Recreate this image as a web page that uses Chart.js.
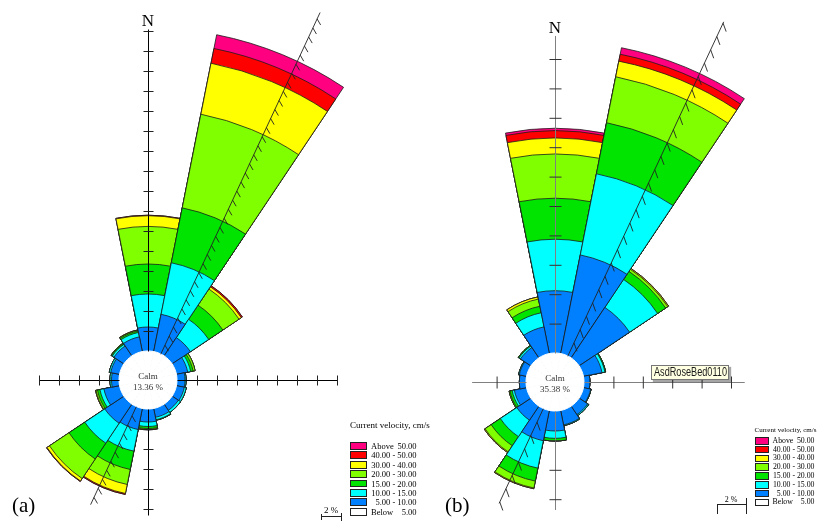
<!DOCTYPE html>
<html>
<head>
<meta charset="utf-8">
<script src="https://cdn.jsdelivr.net/npm/chart.js@4.4.1/dist/chart.umd.min.js"></script>
<style>
  html, body { margin: 0; padding: 0; background: #fff; }
  body { position: relative; width: 827px; height: 523px; overflow: hidden; }
  canvas.rose { position: absolute; }
  .lbl { position: absolute; white-space: nowrap; font-family: "Liberation Serif", "Times New Roman", serif; color: #000; line-height: 1; }
  .ctr { transform: translate(-50%, -50%); }
  .box { position: absolute; box-sizing: border-box; border: 1px solid #222; }
  .rule { position: absolute; background: #222; }
  .tip { position: absolute; box-sizing: border-box; background: #ffffe1; border: 1px solid #767676;
         box-shadow: 2px 2px 1px rgba(0,0,0,0.35); font-family: "Liberation Sans", Arial, sans-serif;
         color: #1a1a1a; white-space: nowrap; overflow: hidden; }
  .tip span { display: inline-block; transform-origin: 0 50%; }
</style>
</head>
<body>
<canvas id="roseA" class="rose" width="800" height="800"></canvas>
<canvas id="roseB" class="rose" width="800" height="800"></canvas>
<script>
// ---- categories --------------------------------------------------------
const directions = ['N','NNE','NE','ENE','E','ESE','SE','SSE','S','SSW','SW','WSW','W','WNW','NW','NNW'];
const classNames  = ['5.00 - 10.00','10.00 - 15.00','15.00 - 20.00','20.00 - 30.00','30.00 - 40.00','40.00 - 50.00','Above 50.00'];
const classColors = ['#0080ff','#00ffff','#00e400','#80ff00','#ffff00','#ff0000','#ff0080'];
const calmColor = '#ffffff';
const legendTitle = 'Current velocity, cm/s';
const legendRows = [['Above','50.00'],['','40.00 - 50.00'],['','30.00 - 40.00'],['','20.00 - 30.00'],
                    ['','15.00 - 20.00'],['','10.00 - 15.00'],['','5.00 - 10.00'],['Below','5.00']];
const legendColors = ['#ff0080','#ff0000','#ffff00','#80ff00','#00e400','#00ffff','#0080ff','#ffffff'];

// ---- rose (a): frequency (%) per direction and velocity class ----------
const calmA = 13.36;
const a_5_10  = [2.40,3.80,2.20,1.15,0.80,0.80,0.75,0.90,1.30,2.15,2.30,1.60,0.75,0.90,1.20,1.50];
const a_10_15 = [3.30,5.25,2.20,0.30,0.10,0.20,0.25,0.25,0.45,2.20,2.40,0.40,0.15,0.15,0.20,0.45];
const a_15_20 = [3.00,5.60,1.70,0.25,0.00,0.00,0.00,0.05,0.20,1.87,1.90,0.25,0.00,0.00,0.10,0.15];
const a_20_30 = [3.76,9.55,1.95,0.20,0.00,0.00,0.00,0.00,0.08,1.53,2.35,0.15,0.00,0.00,0.05,0.08];
const a_30_40 = [1.07,5.20,0.27,0.00,0.00,0.00,0.00,0.00,0.05,0.92,0.30,0.05,0.00,0.00,0.00,0.03];
const a_40_50 = [0.05,1.50,0.13,0.00,0.00,0.00,0.00,0.00,0.00,0.10,0.05,0.00,0.00,0.00,0.00,0.00];
const a_50up  = [0.00,1.40,0.00,0.00,0.00,0.00,0.00,0.00,0.00,0.00,0.00,0.00,0.00,0.00,0.00,0.00];
const meanDirA = [25, 37.7, 10.8];          // bearing, forward length %, backward length %
const axisExtA = [32.2, 16, 10.6, 8];       // axis reach in % : N, E, S, W

// ---- rose (b) ----------------------------------------------------------
const calmB = 35.38;
const b_5_10  = [4.24,6.84,4.13,1.29,0.40,0.50,0.70,1.00,1.36,2.10,1.15,0.85,0.45,0.50,0.85,1.85];
const b_10_15 = [3.50,5.63,2.29,0.20,0.00,0.03,0.08,0.05,0.50,1.90,1.35,0.15,0.00,0.05,0.12,0.98];
const b_15_20 = [2.79,3.54,0.66,0.05,0.00,0.00,0.00,0.00,0.18,0.90,0.75,0.15,0.00,0.00,0.06,0.45];
const b_20_30 = [3.01,3.19,0.17,0.00,0.00,0.00,0.00,0.00,0.00,0.48,0.50,0.06,0.00,0.00,0.00,0.50];
const b_30_40 = [1.09,1.08,0.07,0.00,0.00,0.00,0.00,0.00,0.00,0.05,0.06,0.00,0.00,0.00,0.00,0.15];
const b_40_50 = [0.50,0.48,0.00,0.00,0.00,0.00,0.00,0.00,0.00,0.00,0.00,0.00,0.00,0.00,0.00,0.00];
const b_50up  = [0.16,0.45,0.00,0.00,0.00,0.00,0.00,0.00,0.00,0.00,0.00,0.00,0.00,0.00,0.00,0.00];
const meanDirB = [25, 25.1, 7.1];
const axisExtB = [21.6, 10.9, 6.7, 3.7];

// ---- helpers -----------------------------------------------------------
function addDiv(cls, css, text) {
  const d = document.createElement('div');
  d.className = cls;
  Object.assign(d.style, css);
  if (text !== undefined) d.textContent = text;
  document.body.appendChild(d);
  return d;
}

// Draws the compass axes with 2 % ticks and the feathered mean-direction line.
function overlayPlugin(look) {
  return {
    id: 'roseOverlay',
    afterDatasetsDraw(chart) {
      const s = chart.scales.r, ctx = chart.ctx;
      const cx = s.xCenter, cy = s.yCenter;
      const dist = v => s.getDistanceFromCenterForValue(v);
      const pt = (b, r) => { const a = b * Math.PI / 180; return [cx + r * Math.sin(a), cy - r * Math.cos(a)]; };
      const seg = (p, q) => { ctx.beginPath(); ctx.moveTo(p[0], p[1]); ctx.lineTo(q[0], q[1]); ctx.stroke(); };
      ctx.save();
      ctx.translate(0.5, 0.5);
      [0, 90, 180, 270].forEach((b, i) => {
        ctx.strokeStyle = look.axisColor; ctx.lineWidth = look.axisWidth;
        seg(pt(b, dist(0)), pt(b, dist(look.ext[i])));
        ctx.strokeStyle = look.tickColor; ctx.lineWidth = 1;
        for (let v = 2; v <= look.ext[i] + 0.05; v += 2) {
          const [x, y] = pt(b, dist(v));
          const h = look.tickHalf;
          if (b % 180 === 0) seg([x - h, y], [x + h, y]); else seg([x, y - h], [x, y + h]);
        }
      });
      // mean direction line with barbs every 1 %
      const [bear, fwd, back] = look.mean;
      ctx.strokeStyle = look.meanColor; ctx.lineWidth = 0.9;
      [[bear, fwd], [bear + 180, back]].forEach(([b, len]) => {
        seg(pt(b, dist(0)), pt(b, dist(len)));
        for (let v = 1; v <= len; v++) {
          const p = pt(b, dist(v));
          const a = look.barbBearing * Math.PI / 180;
          seg(p, [p[0] + look.barbLen * Math.sin(a), p[1] - look.barbLen * Math.cos(a)]);
        }
      });
      ctx.restore();
    }
  };
}

function makeRose(id, geo, classes, look) {
  const R = 400;
  const cv = document.getElementById(id);
  cv.style.left = (geo.cx - R) + 'px';
  cv.style.top = (geo.cy - R) + 'px';
  const min = -geo.calmPx / geo.ppu;
  const max = min + R / geo.ppu;
  let run = directions.map(() => 0);
  const cumulative = classes.map(vals => (run = run.map((r, i) => r + vals[i])));
  const datasets = [{ label: 'Below 5.00', data: directions.map(() => 0),
                      backgroundColor: calmColor, borderColor: calmColor, borderWidth: 1 }];
  cumulative.forEach((d, i) => datasets.push({
    label: classNames[i], data: d, backgroundColor: classColors[i],
    borderColor: '#1c1c1c', borderWidth: 0.8
  }));
  const chart = new Chart(cv, {
    type: 'polarArea',
    data: { labels: directions, datasets },
    options: {
      responsive: false, animation: false, events: [],
      layout: { padding: 0 },
      plugins: { legend: { display: false }, tooltip: { enabled: false } },
      scales: { r: { min, max, startAngle: -360 / directions.length / 2,
                     ticks: { display: false }, grid: { display: false },
                     angleLines: { display: false }, pointLabels: { display: false } } }
    },
    plugins: [overlayPlugin(look)]
  });
  const s = chart.scales.r;
  return {
    chart,
    x: parseFloat(cv.style.left) + s.xCenter,
    y: parseFloat(cv.style.top) + s.yCenter,
    dist: v => s.getDistanceFromCenterForValue(v)
  };
}

function buildLegend(cfg) {
  addDiv('lbl', { left: cfg.left + 'px', top: cfg.titleTop + 'px', fontSize: cfg.titleSize + 'px' }, legendTitle);
  legendRows.forEach((row, i) => {
    const top = cfg.top + i * cfg.step;
    addDiv('box', { left: cfg.left + 'px', top: top + 'px', width: cfg.boxW + 'px', height: cfg.boxH + 'px',
                    background: legendColors[i] });
    const cell = addDiv('lbl', { left: cfg.textLeft + 'px', width: (cfg.textRight - cfg.textLeft) + 'px',
                                 top: (top + cfg.boxH / 2) + 'px', transform: 'translateY(-50%)',
                                 fontSize: cfg.size + 'px', display: 'flex', justifyContent: row[0] ? 'space-between' : 'flex-end' });
    if (row[0]) { const l = document.createElement('span'); l.textContent = row[0]; cell.appendChild(l); }
    const r = document.createElement('span'); r.textContent = row[1]; cell.appendChild(r);
  });
}

function scaleBar(rose, cfg) {
  const w = rose.dist(2) - rose.dist(0);
  addDiv('rule', { left: cfg.left + 'px', top: cfg.y + 'px', width: w + 'px', height: '1px' });
  addDiv('rule', { left: cfg.left + 'px', top: cfg.lt[0] + 'px', width: '1px', height: (cfg.lt[1] - cfg.lt[0]) + 'px' });
  addDiv('rule', { left: (cfg.left + w) + 'px', top: cfg.rt[0] + 'px', width: '1px', height: (cfg.rt[1] - cfg.rt[0]) + 'px' });
  addDiv('lbl ctr', { left: (cfg.left + w / 2) + 'px', top: cfg.textY + 'px', fontSize: cfg.size + 'px' }, '2 %');
}

function roseLabels(rose, calm, cfg) {
  addDiv('lbl ctr', { left: rose.x + 'px', top: (rose.y - rose.dist(cfg.axisTop) - cfg.nGap) + 'px', fontSize: '17px' }, 'N');
  addDiv('lbl ctr', { left: rose.x + 'px', top: (rose.y - 4.5) + 'px', fontSize: '9px', color: '#333' }, 'Calm');
  addDiv('lbl ctr', { left: rose.x + 'px', top: (rose.y + 7) + 'px', fontSize: '9px', color: '#333' }, calm.toFixed(2) + ' %');
}

// ---- rose (a) ----------------------------------------------------------
const roseA = makeRose('roseA', { cx: 148, cy: 380, ppu: 10, calmPx: 29 },
  [a_5_10, a_10_15, a_15_20, a_20_30, a_30_40, a_40_50, a_50up],
  { axisColor: '#000', axisWidth: 1, tickColor: '#222', tickHalf: 5, ext: axisExtA,
    mean: meanDirA, meanColor: '#222', barbBearing: 150, barbLen: 7 });
roseLabels(roseA, calmA, { axisTop: axisExtA[0], nGap: 9 });
buildLegend({ left: 350, titleTop: 420.5, titleSize: 9, top: 442, step: 9.4, boxW: 16.5, boxH: 7.8,
              textLeft: 371, textRight: 416.5, size: 8.5 });
scaleBar(roseA, { left: 321, y: 516, lt: [513.5, 520], rt: [513, 520.5], textY: 510, size: 9 });
addDiv('lbl', { left: '12px', top: '495px', fontSize: '21px' }, '(a)');

// ---- rose (b) ----------------------------------------------------------
const roseB = makeRose('roseB', { cx: 555, cy: 382, ppu: 14.7, calmPx: 29 },
  [b_5_10, b_10_15, b_15_20, b_20_30, b_30_40, b_40_50, b_50up],
  { axisColor: '#808080', axisWidth: 1, tickColor: '#333', tickHalf: 6, ext: axisExtB,
    mean: meanDirB, meanColor: '#222', barbBearing: 160, barbLen: 9 });
roseLabels(roseB, calmB, { axisTop: axisExtB[0], nGap: 8.5 });
buildLegend({ left: 754.5, titleTop: 427, titleSize: 7, top: 437, step: 8.8, boxW: 14.5, boxH: 7.5,
              textLeft: 772.5, textRight: 814.5, size: 7.8 });
scaleBar(roseB, { left: 716.5, y: 504, lt: [504, 514], rt: [498, 514], textY: 499.5, size: 8 });
addDiv('lbl', { left: '445px', top: '495px', fontSize: '21px' }, '(b)');

// hover tag shown on rose (b), text squeezed to the tag's width
const tip = addDiv('tip', { left: '651px', top: '364.5px', width: '78px', height: '15.5px', fontSize: '12px',
                            lineHeight: '13.5px', paddingLeft: '2px' });
const tipText = document.createElement('span');
tipText.textContent = 'AsdRoseBed0110';
tip.appendChild(tipText);
const tipW = tipText.getBoundingClientRect().width;
tipText.style.transform = 'scaleX(' + Math.min(1, 73 / tipW).toFixed(3) + ')';
</script>
</body>
</html>
